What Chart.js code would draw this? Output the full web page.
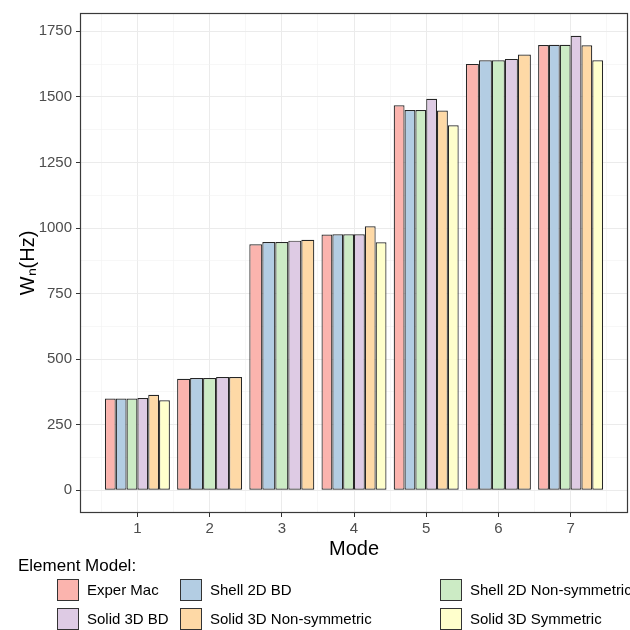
<!DOCTYPE html>
<html><head><meta charset="utf-8">
<script src="https://cdn.jsdelivr.net/npm/chart.js@4"></script>
<style>
html,body{margin:0;padding:0;background:#fff;}
#wrap{position:relative;width:630px;height:630px;font-family:"Liberation Sans",Arial,sans-serif;overflow:hidden;}
canvas{position:absolute;left:0;top:0;}
#legend{position:absolute;left:0;top:0;width:630px;height:630px;}
.lt{position:absolute;left:18px;top:556px;font-size:17px;line-height:20px;color:#000;white-space:nowrap;}
.item{position:absolute;display:flex;align-items:center;font-size:15px;line-height:22px;color:#000;white-space:nowrap;}
.box{width:22px;height:22px;border:1px solid #333;margin-right:8px;box-sizing:border-box;}
</style></head>
<body><div id="wrap"><canvas id="c" width="630" height="630"></canvas><div id="legend"></div></div>
<script>
const modes = [1, 2, 3, 4, 5, 6, 7];
const seriesNames = ['Exper Mac', 'Shell 2D BD', 'Shell 2D Non-symmetric', 'Solid 3D BD', 'Solid 3D Non-symmetric', 'Solid 3D Symmetric'];
const experMac = [350, 425, 938, 975, 1468, 1626, 1698];
const shell2dBD = [350, 428, 947, 976, 1450, 1640, 1699];
const shell2dNonSym = [350, 428, 947, 976, 1450, 1640, 1699];
const solid3dBD = [352, 432, 952, 976, 1493, 1645, 1733];
const solid3dNonSym = [364, 432, 955, 1007, 1448, 1662, 1697];
const solid3dSym = [343, null, null, 946, 1392, null, 1640];
const yTickValues = [0, 250, 500, 750, 1000, 1250, 1500, 1750];
const colors = ['#FBB4AE', '#B3CDE3', '#CCEBC5', '#DECBE4', '#FED9A6', '#FFFFCC'];

const seriesValues = [experMac, shell2dBD, shell2dNonSym, solid3dBD, solid3dNonSym, solid3dSym];
const FONT = '"Liberation Sans", Arial, sans-serif';
const xMinorTicks = modes.map(m => m - 0.5).concat([modes[modes.length - 1] + 0.5]);
const yMinorTicks = yTickValues.slice(1).map((v, i) => (v + yTickValues[i]) / 2);
const X_MIN = 0.205, X_MAX = 7.795, Y_MIN = -86.6, Y_MAX = 1820;

const datasets = seriesNames.map((name, i) => ({
  label: name,
  data: modes.map((m, j) => ({ x: m, y: seriesValues[i][j] })),
  backgroundColor: colors[i],
  borderColor: '#262626',
  borderWidth: 1.2,
  borderSkipped: false,
  xAxisID: 'x',
  yAxisID: 'y'
}));

const panelBorder = {
  id: 'panelBorder',
  afterDraw(chart) {
    const a = chart.chartArea, ctx = chart.ctx;
    ctx.save();
    ctx.strokeStyle = '#3a3a3a';
    ctx.lineWidth = 1.2;
    ctx.strokeRect(a.left + 0.5, a.top + 0.5, a.right - a.left - 1, a.bottom - a.top - 1);
    ctx.restore();
  }
};

new Chart(document.getElementById('c'), {
  type: 'bar',
  data: { datasets },
  plugins: [panelBorder],
  options: {
    responsive: false,
    animation: false,
    layout: { padding: { top: 11, right: 2, left: 0, bottom: 70 } },
    plugins: { legend: { display: false }, tooltip: { enabled: false } },
    datasets: { bar: { categoryPercentage: 0.9, barPercentage: 1, skipNull: true } },
    scales: {
      x: {
        type: 'linear', position: 'bottom', min: X_MIN, max: X_MAX, offset: false,
        afterBuildTicks: s => { s.ticks = modes.map(v => ({ value: v })); },
        afterFit: s => { s.height = 47; },
        grid: { offset: false, color: '#ebebeb', lineWidth: 1, tickColor: '#333', tickLength: 4, drawTicks: true },
        border: { display: false },
        ticks: { color: '#4d4d4d', font: { family: FONT, size: 15 }, padding: 3, autoSkip: false, maxRotation: 0, callback: v => String(v) },
        title: { display: true, text: 'Mode', color: '#000', font: { family: FONT, size: 20, lineHeight: 1.1 }, padding: { top: 0, bottom: 0 } }
      },
      xMinor: {
        type: 'linear', position: 'top', min: X_MIN, max: X_MAX, offset: false,
        afterBuildTicks: s => { s.ticks = xMinorTicks.map(v => ({ value: v })); },
        afterFit: s => { s.height = 0; },
        grid: { offset: false, color: '#f2f2f2', lineWidth: 0.6, drawTicks: false },
        border: { display: false },
        ticks: { display: false }
      },
      y: {
        type: 'linear', position: 'left', min: Y_MIN, max: Y_MAX,
        afterBuildTicks: s => { s.ticks = yTickValues.map(v => ({ value: v })); },
        afterFit: s => { s.width = 80; },
        grid: { color: '#ebebeb', lineWidth: 1, tickColor: '#333', tickLength: 4, drawTicks: true },
        border: { display: false },
        ticks: { color: '#4d4d4d', font: { family: FONT, size: 15 }, padding: 4, callback: v => String(v) },
        title: { display: true, text: 'Wₙ(Hz)', color: '#000', font: { family: FONT, size: 20, lineHeight: 1.1 }, padding: { top: 17, bottom: 0 } }
      },
      yMinor: {
        type: 'linear', position: 'right', min: Y_MIN, max: Y_MAX,
        afterBuildTicks: s => { s.ticks = yMinorTicks.map(v => ({ value: v })); },
        afterFit: s => { s.width = 0; },
        grid: { color: '#f2f2f2', lineWidth: 0.6, drawTicks: false },
        border: { display: false },
        ticks: { display: false }
      }
    }
  }
});

// HTML legend built from the series arrays
const legend = document.getElementById('legend');
const lt = document.createElement('div');
lt.className = 'lt';
lt.textContent = 'Element Model:';
legend.appendChild(lt);
const colX = [57, 180, 440];
const rowY = [579, 608];
seriesNames.forEach((name, i) => {
  const it = document.createElement('div');
  it.className = 'item';
  it.style.left = colX[i % 3] + 'px';
  it.style.top = rowY[Math.floor(i / 3)] + 'px';
  const b = document.createElement('div');
  b.className = 'box';
  b.style.background = colors[i];
  const t = document.createElement('span');
  t.textContent = name;
  it.appendChild(b);
  it.appendChild(t);
  legend.appendChild(it);
});
</script>
</body></html>
